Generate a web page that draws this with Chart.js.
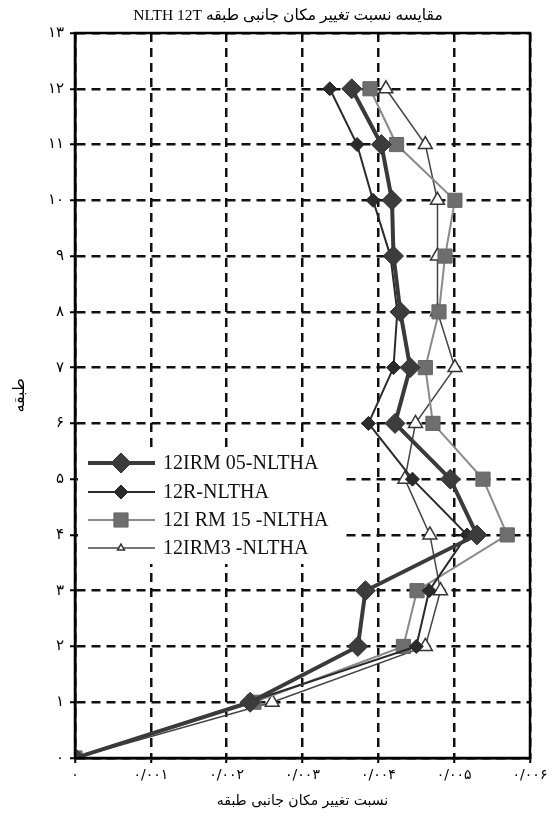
<!DOCTYPE html>
<html>
<head>
<meta charset="utf-8">
<script src="https://cdn.jsdelivr.net/npm/chart.js@4/dist/chart.umd.min.js"></script>
<style>
  html, body { margin: 0; padding: 0; background: #ffffff; }
  #wrap { width: 558px; height: 818px; }
</style>
</head>
<body>
<div id="wrap"><canvas id="c" width="558" height="818" dir="rtl"></canvas></div>
<script>
// Storey numbers (vertical axis) and drift ratios per storey for each analysis case
const floors = [0, 1, 2, 3, 4, 5, 6, 7, 8, 9, 10, 11, 12];
const irm05 = [0, 0.00231, 0.00373, 0.00383, 0.00530, 0.00495, 0.00422, 0.00442, 0.00429, 0.00420, 0.00418, 0.00404, 0.00365];
const r12   = [0, 0.00228, 0.00450, 0.00467, 0.00517, 0.00445, 0.00387, 0.00420, 0.00425, 0.00416, 0.00393, 0.00372, 0.00336];
const irm15 = [0, 0.00236, 0.00433, 0.00451, 0.00570, 0.00538, 0.00472, 0.00462, 0.00480, 0.00488, 0.00501, 0.00424, 0.00389];
const irm3  = [0, 0.00260, 0.00462, 0.00482, 0.00468, 0.00435, 0.00449, 0.00501, 0.00478, 0.00478, 0.00478, 0.00462, 0.00410];

const seriesNames = ['12IRM 05-NLTHA', '12R-NLTHA', '12I RM 15 -NLTHA', '12IRM3 -NLTHA'];

const yTickLabels = ['۰', '۱', '۲', '۳', '۴', '۵', '۶', '۷', '۸', '۹', '۱۰', '۱۱', '۱۲', '۱۳'];
const xTickLabels = ['۰', '۰/۰۰۱', '۰/۰۰۲', '۰/۰۰۳', '۰/۰۰۴', '۰/۰۰۵', '۰/۰۰۶'];

const chartTitle = 'مقایسه نسبت تغییر مکان جانبی طبقه NLTH 12T';
const xTitle = 'نسبت تغییر مکان جانبی طبقه';
const yTitle = 'طبقه';

const persianFont = "'DejaVu Sans', sans-serif";
const mixedFont = "'Liberation Serif', 'DejaVu Sans', serif";

function toPoints(values) {
  return values.map((v, i) => ({ x: v, y: floors[i] }));
}

// Marker shapes used in the key, matching the chart's point styles
function drawMarker(ctx, style, r, x, y) {
  ctx.beginPath();
  if (style === 'rectRot') {
    ctx.moveTo(x - r, y); ctx.lineTo(x, y - r); ctx.lineTo(x + r, y); ctx.lineTo(x, y + r);
    ctx.closePath();
  } else if (style === 'rect') {
    const s = r * Math.SQRT1_2;
    ctx.rect(x - s, y - s, 2 * s, 2 * s);
  } else if (style === 'triangle') {
    let a = 0;
    ctx.moveTo(x + Math.sin(a) * r, y - Math.cos(a) * r);
    a += 2 * Math.PI / 3;
    ctx.lineTo(x + Math.sin(a) * r, y - Math.cos(a) * r);
    a += 2 * Math.PI / 3;
    ctx.lineTo(x + Math.sin(a) * r, y - Math.cos(a) * r);
    ctx.closePath();
  }
  ctx.fill();
  ctx.stroke();
}

// Closed frame around the plot plus the heading above it
const frameAndTitle = {
  id: 'frameAndTitle',
  afterDraw(chart) {
    const { ctx, chartArea: a } = chart;
    ctx.save();
    ctx.strokeStyle = '#000';
    ctx.lineWidth = 2.5;
    ctx.strokeRect(a.left, a.top, a.right - a.left, a.bottom - a.top);
    ctx.direction = 'rtl';
    ctx.fillStyle = '#000';
    ctx.font = '15.5px ' + mixedFont;
    ctx.textAlign = 'center';
    ctx.textBaseline = 'middle';
    ctx.fillText(chartTitle, 288, 16);
    ctx.restore();
  }
};

// Key drawn inside the plot, on a white patch
const insideKey = {
  id: 'insideKey',
  afterDatasetsDraw(chart) {
    const { ctx, chartArea: a } = chart;
    const bx = a.left + 3, by = 452, bw = 268, bh = 112;
    ctx.save();
    ctx.direction = 'ltr';
    ctx.fillStyle = '#ffffff';
    ctx.fillRect(bx, by, bw, bh);
    const rows = [463, 492, 520, 548];
    chart.data.datasets.forEach((ds, i) => {
      const y = rows[i];
      ctx.strokeStyle = ds.borderColor;
      ctx.lineWidth = ds.borderWidth;
      ctx.beginPath();
      ctx.moveTo(a.left + 13, y);
      ctx.lineTo(a.left + 80, y);
      ctx.stroke();
      ctx.fillStyle = ds.pointBackgroundColor;
      ctx.strokeStyle = ds.pointBorderColor;
      ctx.lineWidth = ds.pointBorderWidth;
      drawMarker(ctx, ds.pointStyle, ds.keyRadius, a.left + 46, y);
      ctx.fillStyle = '#111';
      ctx.font = '20px ' + mixedFont;
      ctx.textAlign = 'left';
      ctx.textBaseline = 'middle';
      ctx.fillText(ds.label, a.left + 88, y + 1);
    });
    ctx.restore();
  }
};

const gridColor = '#111111';

new Chart(document.getElementById('c'), {
  type: 'scatter',
  data: {
    datasets: [
      {
        label: seriesNames[0], data: toPoints(irm05), showLine: true,
        borderColor: '#3a3a3a', borderWidth: 4,
        pointStyle: 'rectRot', pointRadius: 10, keyRadius: 10,
        pointBackgroundColor: '#3c3c3c', pointBorderColor: '#333333', pointBorderWidth: 1
      },
      {
        label: seriesNames[1], data: toPoints(r12), showLine: true,
        borderColor: '#2a2a2a', borderWidth: 2,
        pointStyle: 'rectRot', pointRadius: 7, keyRadius: 7,
        pointBackgroundColor: '#2b2b2b', pointBorderColor: '#222222', pointBorderWidth: 1
      },
      {
        label: seriesNames[2], data: toPoints(irm15), showLine: true,
        borderColor: '#8a8a8a', borderWidth: 2,
        pointStyle: 'rect', pointRadius: 10, keyRadius: 10,
        pointBackgroundColor: '#6e6e6e', pointBorderColor: '#666666', pointBorderWidth: 1
      },
      {
        label: seriesNames[3], data: toPoints(irm3), showLine: true,
        borderColor: '#444444', borderWidth: 1.5,
        pointStyle: 'triangle', pointRadius: 8, keyRadius: 4,
        pointBackgroundColor: '#ffffff', pointBorderColor: '#333333', pointBorderWidth: 1.5
      }
    ]
  },
  options: {
    responsive: false,
    animation: false,
    layout: { padding: { top: 33, right: 28, left: 0, bottom: 0 } },
    plugins: {
      legend: { display: false },
      title: { display: false },
      tooltip: { enabled: false }
    },
    scales: {
      x: {
        type: 'linear', min: 0, max: 0.006,
        afterFit(scale) { scale.height = 60; },
        afterBuildTicks(scale) { scale.ticks = xTickLabels.map((_, i) => ({ value: i * 0.001 })); },
        ticks: {
          callback: (v, i) => xTickLabels[i],
          color: '#000', font: { family: persianFont, size: 14 }, padding: 4, maxRotation: 0
        },
        grid: { color: gridColor, lineWidth: 2.5, tickLength: 5, tickColor: '#000', tickWidth: 2 },
        border: { display: true, color: '#000', width: 2.5, dash: [9, 6] },
        title: { display: true, text: xTitle, color: '#000', font: { family: persianFont, size: 14 }, padding: { top: 0, bottom: 8 } }
      },
      y: {
        type: 'linear', min: 0, max: 13,
        afterFit(scale) { scale.width = 75; },
        ticks: {
          stepSize: 1,
          callback: (v, i) => yTickLabels[i],
          color: '#000', font: { family: persianFont, size: 15 }, padding: 6
        },
        grid: { color: gridColor, lineWidth: 2.5, tickLength: 5, tickColor: '#000', tickWidth: 2 },
        border: { display: true, color: '#000', width: 2.5, dash: [9, 6] },
        title: { display: true, text: yTitle, color: '#000', font: { family: persianFont, size: 16 }, padding: { top: 10, bottom: 0 } }
      }
    }
  },
  plugins: [frameAndTitle, insideKey]
});
</script>
</body>
</html>
